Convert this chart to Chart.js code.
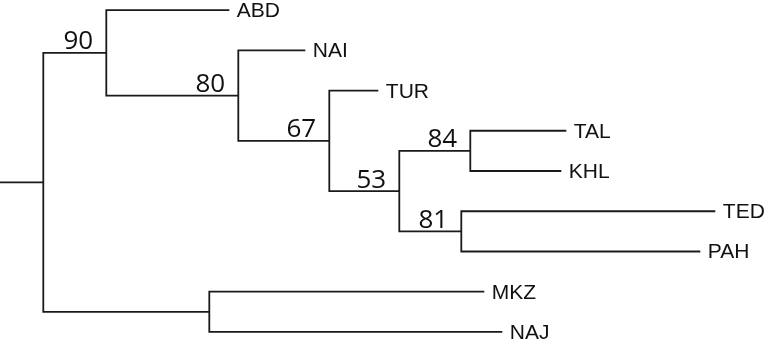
<!DOCTYPE html>
<html>
<head>
<meta charset="utf-8">
<script src="https://cdn.jsdelivr.net/npm/chart.js@4.4.1/dist/chart.umd.min.js"></script>
<style>
  html, body { margin: 0; padding: 0; background: #fff; }
  canvas { display: block; }
</style>
</head>
<body>
<canvas id="tree" width="766" height="340"></canvas>
<script>
// leaves, top to bottom, with their depth from the root (branch length units)
const leafNames = ['ABD', 'NAI', 'TUR', 'TAL', 'KHL', 'TED', 'PAH', 'MKZ', 'NAJ'];
const leafDepths = [18.6, 26.2, 33.5, 52.3, 51.8, 67.2, 65.7, 44.1, 45.9];

// internal nodes: children, depth and bootstrap support
const cladeNames = ['root', 'c90', 'c80', 'c67', 'c53', 'c84', 'c81', 'cMN'];
const cladeChildren = [
    ['c90', 'cMN'],
    ['ABD', 'c80'],
    ['NAI', 'c67'],
    ['TUR', 'c53'],
    ['c84', 'c81'],
    ['TAL', 'KHL'],
    ['TED', 'PAH'],
    ['MKZ', 'NAJ']
];
const cladeDepths = [0, 6.3, 19.5, 28.6, 35.6, 42.7, 41.8, 16.6];
const supportValues = [null, 90, 80, 67, 53, 84, 81, null];
const rootStubStart = -4.33;

// depth (x) and row (y) of every node
function depthOf(name) {
    const li = leafNames.indexOf(name);
    if (li >= 0) return leafDepths[li];
    return cladeDepths[cladeNames.indexOf(name)];
}
function rowOf(name) {
    const li = leafNames.indexOf(name);
    if (li >= 0) return li;
    const kids = cladeChildren[cladeNames.indexOf(name)];
    return (rowOf(kids[0]) + rowOf(kids[1])) / 2;
}

// one elbow per clade: child1 tip -> clade -> child2 tip
const datasets = cladeNames.map((name, i) => {
    const [a, b] = cladeChildren[i];
    const d = cladeDepths[i];
    return {
        data: [
            { x: depthOf(a), y: rowOf(a) },
            { x: d, y: rowOf(a) },
            { x: d, y: rowOf(b) },
            { x: depthOf(b), y: rowOf(b) }
        ]
    };
});
// stub leading into the root
datasets.push({
    data: [
        { x: rootStubStart, y: rowOf('root') },
        { x: 0, y: rowOf('root') }
    ]
});
datasets.forEach(ds => {
    ds.showLine = true;
    ds.borderColor = '#1a1a1a';
    ds.borderWidth = 1.8;
    ds.pointRadius = 0;
    ds.borderJoinStyle = 'miter';
    ds.borderCapStyle = 'butt';
    ds.tension = 0;
});

// tip names and support values
const labelPlugin = {
    id: 'treeLabels',
    afterDatasetsDraw(chart) {
        const ctx = chart.ctx;
        const xs = chart.scales.x;
        const ys = chart.scales.y;
        ctx.save();
        ctx.fillStyle = '#111';
        ctx.textBaseline = 'alphabetic';

        ctx.font = '21px "Liberation Sans", Arial, sans-serif';
        ctx.textAlign = 'left';
        leafNames.forEach((name, i) => {
            const px = xs.getPixelForValue(leafDepths[i]) + 7.5;
            const py = ys.getPixelForValue(i) + 7;
            ctx.fillText(name, px, py);
        });

        ctx.font = '26px "Open Sans", "Noto Sans", sans-serif';
        ctx.textAlign = 'center';
        cladeNames.forEach((name, i) => {
            if (supportValues[i] == null) return;
            const px = xs.getPixelForValue(cladeDepths[i]) - 28;
            const py = ys.getPixelForValue(rowOf(name)) - 3.5;
            ctx.fillText(String(supportValues[i]), px, py);
        });
        ctx.restore();
    }
};

new Chart(document.getElementById('tree'), {
    type: 'scatter',
    data: { datasets: datasets },
    options: {
        responsive: false,
        animation: false,
        layout: { padding: 0 },
        scales: {
            x: { type: 'linear', min: rootStubStart, max: 72.27, display: false },
            y: { type: 'linear', min: -0.25, max: 8.2, reverse: true, display: false }
        },
        plugins: {
            legend: { display: false },
            tooltip: { enabled: false }
        }
    },
    plugins: [labelPlugin]
});
</script>
</body>
</html>
